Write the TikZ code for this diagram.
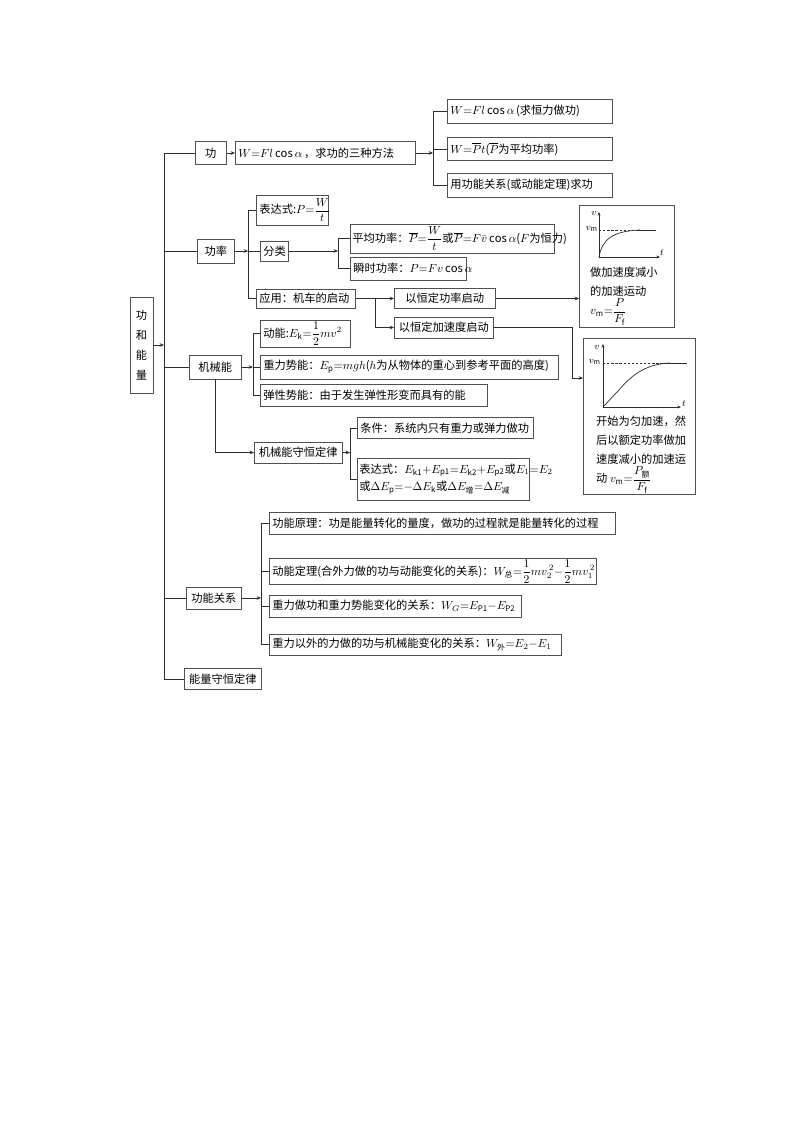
\documentclass[tikz,border=0pt]{standalone}
\usepackage{fontspec}
\usepackage{amsmath}
\setmainfont{Noto Sans CJK SC}
\usetikzlibrary{arrows.meta, shadows}
\newdimen\pxu \pxu=0.03cm
\newcommand{\cnsize}{\fontsize{9.6pt}{11pt}\selectfont}
\definecolor{ink}{RGB}{45, 45, 45}
\definecolor{frame}{RGB}{80, 80, 80}
\tikzset{
    box/.style={rectangle, draw=frame, line width=0.6pt, fill=white, anchor=west, align=left, font=\cnsize, inner xsep=3\pxu, inner ysep=1pt, drop shadow={shadow xshift=0.6pt, shadow yshift=-0.6pt, opacity=0.4}},
    cbox/.style={box, align=center},
    gbox/.style={box, anchor=north west, inner sep=0pt},
    gtext/.style={anchor=west, inner sep=0pt, font=\cnsize},
    glabel/.style={inner sep=0pt, font=\fontsize{8.5pt}{10pt}\selectfont},
    link/.style={draw=ink, line width=0.6pt},
    arr/.style={link, -{Stealth[length=1.3mm, width=1.1mm]}},
    axis/.style={draw=ink, line width=0.5pt, -{Stealth[length=1.1mm, width=0.9mm]}}
}
\begin{document}
\begin{tikzpicture}[x=0.03cm, y=-0.03cm]
    \path[use as bounding box, fill=white] (0,0) rectangle (800,1132);
    \node[cbox, anchor=center, text width=17\pxu, minimum height=96\pxu, font=\fontsize{9.6pt}{17pt}\selectfont] (root) at (141.5,345) {功\\和\\能\\量};
    \node[cbox, text width=25\pxu, minimum height=23\pxu] (work) at (195,153) {功};
    \node[cbox, text width=31\pxu, minimum height=24\pxu] (power) at (197,251) {功率};
    \node[cbox, text width=46\pxu, minimum height=24\pxu] (mech) at (189,367) {机械能};
    \node[cbox, text width=49\pxu, minimum height=22\pxu] (relation) at (186,598) {功能关系};
    \node[cbox, text width=71\pxu, minimum height=21\pxu] (conserve) at (184,679) {能量守恒定律};
    \node[box, text width=174\pxu, minimum height=23\pxu] (wmain) at (235,153) {$W{=}Fl\cos\alpha$\,，求功的三种方法};
    \node[box, text width=159\pxu, minimum height=24\pxu] (w1) at (447,111) {$W{=}Fl\cos\alpha$\,(求恒力做功)};
    \node[box, text width=159\pxu, minimum height=23\pxu] (w2) at (447,149) {$W{=}\overline{P}t$($\overline{P}$为平均功率)};
    \node[box, text width=159\pxu, minimum height=24\pxu] (w3) at (447,185) {用功能关系(或动能定理)求功};
    \node[box, text width=66\pxu, minimum height=30\pxu] (pexp) at (256,210) {表达式:$P{=}\dfrac{W}{t}$};
    \node[cbox, text width=22\pxu, minimum height=20\pxu] (pclass) at (260,251) {分类};
    \node[box, text width=93\pxu, minimum height=19\pxu] (papp) at (256,298.5) {应用：机车的启动};
    \node[box, text width=200\pxu, minimum height=29\pxu, inner xsep=2\pxu] (pavg) at (350,238.5) {平均功率：$\overline{P}{=}\dfrac{W}{t}$或$\overline{P}{=}F\bar{v}\cos\alpha$($F$为恒力)};
    \node[box, text width=110\pxu, minimum height=23\pxu] (pinst) at (350,268.5) {瞬时功率：$P{=}Fv\cos\alpha$};
    \node[cbox, text width=95\pxu, minimum height=20\pxu] (s1) at (394,298.5) {以恒定功率启动};
    \node[cbox, text width=93\pxu, minimum height=21\pxu] (s2) at (394,327.5) {以恒定加速度启动};
    \node[gbox, minimum width=95\pxu, minimum height=122\pxu] (g1) at (579,205) {};
    \node[gbox, minimum width=112\pxu, minimum height=156\pxu] (g2) at (583,338) {};
    \node[box, text width=84\pxu, minimum height=27\pxu] (mk) at (260,333.5) {动能:$E_{\mathrm k}{=}\dfrac{1}{2}mv^2$};
    \node[box, text width=292\pxu, minimum height=24\pxu] (mp) at (260,367) {重力势能：$E_{\mathrm p}{=}mgh$($h$为从物体的重心到参考平面的高度)};
    \node[box, text width=221\pxu, minimum height=22\pxu] (me) at (260,395) {弹性势能：由于发生弹性形变而具有的能};
    \node[cbox, text width=82\pxu, minimum height=21\pxu] (mlaw) at (254,452.5) {机械能守恒定律};
    \node[box, text width=170\pxu, minimum height=21\pxu] (cond) at (357,428) {条件：系统内只有重力或弹力做功};
    \node[box, text width=168\pxu, minimum height=42\pxu, inner xsep=2\pxu, font=\fontsize{9.6pt}{15pt}\selectfont] (mexp) at (357,479) {表达式：$E_{\mathrm{k1}}{+}E_{\mathrm{p1}}{=}E_{\mathrm{k2}}{+}E_{\mathrm{p2}}$或$E_1{=}E_2$\\或$\Delta E_{\mathrm p}{=}{-}\Delta E_{\mathrm k}$或$\Delta E_{\text{增}}{=}\Delta E_{\text{减}}$};
    \node[box, text width=340\pxu, minimum height=22\pxu] (r1) at (269,523) {功能原理：功是能量转化的量度，做功的过程就是能量转化的过程};
    \node[box, text width=321\pxu, minimum height=24\pxu] (r2) at (269,571.5) {动能定理(合外力做的功与动能变化的关系)：$W_{\text{总}}{=}\dfrac{1}{2}mv_2^{\,2}{-}\dfrac{1}{2}mv_1^{\,2}$};
    \node[box, text width=246\pxu, minimum height=22\pxu] (r3) at (269,606) {重力做功和重力势能变化的关系：$W_G{=}E_{\mathrm{P1}}{-}E_{\mathrm{P2}}$};
    \node[box, text width=286\pxu, minimum height=21\pxu] (r4) at (269,644.5) {重力以外的力做的功与机械能变化的关系：$W_{\text{外}}{=}E_2{-}E_1$};
    % trunk lines
    \coordinate (mt) at (164,0);
    \coordinate (wt) at (433,0);
    \coordinate (pt) at (248,0);
    \coordinate (ct) at (338,0);
    \coordinate (at) at (375,0);
    \coordinate (gt) at (572,0);
    \coordinate (g2in) at (583,378);
    \coordinate (kt) at (253,0);
    \coordinate (lt) at (350,0);
    \coordinate (rt) at (261,0);
    \draw[arr] (root.east) -- (root.east -| mt);
    \draw[link] (work.west) -- (work.west -| mt) |- (conserve.west);
    \draw[link] (power.west) -- (power.west -| mt);
    \draw[link] (mech.west) -- (mech.west -| mt);
    \draw[link] (relation.west) -- (relation.west -| mt);
    \draw[arr] (work.east) -- (wmain.west);
    \draw[arr] (wmain.east) -- (wmain.east -| wt);
    \draw[link] (w1.west) -- (w1.west -| wt) |- (w3.west);
    \draw[link] (w2.west) -- (w2.west -| wt);
    \draw[arr] (power.east) -- (power.east -| pt);
    \draw[link] (pexp.west) -- (pexp.west -| pt) |- (papp.west);
    \draw[link] (pclass.west) -- (pclass.west -| pt);
    \draw[arr] (pclass.east) -- (pclass.east -| ct);
    \draw[link] (pavg.west) -- (pavg.west -| ct) |- (pinst.west);
    \draw[arr] (papp.east) -- (s1.west);
    \draw[arr] (papp.east -| at) |- (s2.west);
    \draw[arr] (s1.east) -- (s1.east -| g1.west);
    \draw[arr] (s2.east) -- (s2.east -| gt) |- (g2in);
    \draw[arr] (mech.east) -- (mech.east -| kt);
    \draw[link] (mk.west) -- (mk.west -| kt) |- (me.west);
    \draw[link] (mp.west) -- (mp.west -| kt);
    \draw[arr] (mech.south) |- (mlaw.west);
    \draw[arr] (mlaw.east) -- (mlaw.east -| lt);
    \draw[link] (cond.west) -- (cond.west -| lt) |- (mexp.west);
    \draw[arr] (relation.east) -- (relation.east -| rt);
    \draw[link] (r1.west) -- (r1.west -| rt) |- (r4.west);
    \draw[link] (r2.west) -- (r2.west -| rt);
    \draw[link] (r3.west) -- (r3.west -| rt);
    % graph 1
    \coordinate (o1) at (599,257);
    \draw[axis] (o1) -- (599,212);
    \draw[axis] (o1) -- (660,257);
    \draw[link, dash pattern=on 2pt off 1.5pt] (599,230) -- (638,230);
    \draw[link] (638,230) -- (656,230);
    \draw[link] (o1) .. controls (602,240) and (612,231) .. (640,230);
    \node[glabel] (g1v) at (594,213) {$v$};
    \node[glabel, anchor=east] (g1vm) at (598,229) {$v_{\mathrm m}$};
    \node[glabel] (g1t) at (662,253) {$t$};
    \node[gtext] (g1a) at (590,272) {做加速度减小};
    \node[gtext] (g1b) at (590,291) {的加速运动};
    \node[gtext] (g1c) at (590,312) {$v_{\mathrm m}{=}\dfrac{P}{F_{\mathrm f}}$};
    % graph 2
    \coordinate (o2) at (603,407);
    \draw[axis] (o2) -- (603,344);
    \draw[axis] (o2) -- (681,407);
    \draw[link, dash pattern=on 2pt off 1.5pt] (603,363) -- (664,363);
    \draw[link] (664,363) -- (687,363);
    \draw[link] (o2) -- (618,391) .. controls (630,377) and (644,364) .. (670,363);
    \node[glabel] (g2v) at (597,347) {$v$};
    \node[glabel, anchor=east] (g2vm) at (601,362) {$v_{\mathrm m}$};
    \node[glabel] (g2t) at (684,404) {$t$};
    \node[gtext] (g2a) at (596,421) {开始为匀加速，然};
    \node[gtext] (g2b) at (596,440) {后以额定功率做加};
    \node[gtext] (g2c) at (596,459) {速度减小的加速运};
    \node[gtext] (g2d) at (596,480) {动 $v_{\mathrm m}{=}\dfrac{P_{\text{额}}}{F_{\mathrm f}}$};
\end{tikzpicture}
\end{document}
